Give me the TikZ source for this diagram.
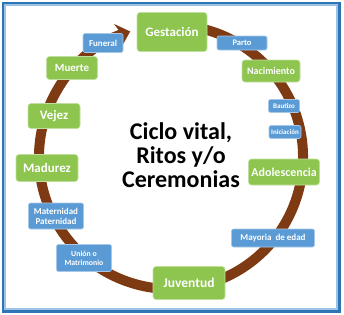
\documentclass[tikz,border=0pt]{standalone}
\usepackage{fontspec}
\setmainfont{Carlito}
\usetikzlibrary{arrows.meta}
\definecolor{CicloGreen}{HTML}{8DC54F}
\definecolor{CicloBlue}{HTML}{5B9BD5}
\definecolor{CicloBrown}{HTML}{7E3A12}
\definecolor{CicloFrame}{HTML}{2E75B6}
\definecolor{CicloFrameLight}{HTML}{9DC3E6}
\tikzset{
    % Green boxes for the stages
    etapa/.style={
        rectangle,
        rounded corners=3pt,
        draw=CicloGreen!55!white,
        line width=0.6pt,
        fill=CicloGreen,
        text=white,
        inner sep=1pt,
        align=center
    },
    % Blue boxes for the rites
    rito/.style={
        etapa,
        rounded corners=2pt,
        draw=CicloBlue!55!white,
        fill=CicloBlue
    },
    ciclo/.style={
        line width=10pt,
        color=CicloBrown,
        -{Stealth[length=13pt,width=24pt,inset=4pt]}
    }
}
\newcommand{\fsz}[1]{\bfseries\fontsize{#1}{#1}\selectfont}

\begin{document}
\begin{tikzpicture}[x=1pt, y=1pt]
        \useasboundingbox (0,0) rectangle (344,314);
        % Frame
        \draw[CicloFrame, line width=2.5pt] (2.8,2.5) rectangle (339.5,311);
        \draw[CicloFrameLight, line width=1.8pt] (5.0,4.7) rectangle (337.3,308.8);

        % Cycle arrow
        \coordinate (centro) at (171,157);
        \draw[ciclo] ([shift={(75:132)}]centro) arc[start angle=75, end angle=-252, radius=132];

        % Title
        \node[font=\fsz{24}, align=center, text=black] (titulo) at (181,159)
            {\fontsize{24}{28}\selectfont Ciclo vital,\\Ritos y/o\\Ceremonias};

        % Stages
        \node[etapa, minimum width=70pt, minimum height=39pt, font=\fsz{13}] (gest) at (172,282) {Gestación};
        \node[etapa, minimum width=58pt, minimum height=22pt, font=\fsz{10}] (nac) at (271,243) {Nacimiento};
        \node[etapa, minimum width=71pt, minimum height=26pt, font=\fsz{12}] (adol) at (284,142) {Adolescencia};
        \node[etapa, minimum width=72pt, minimum height=33pt, font=\fsz{13.5}] (juv) at (189,31) {Juventud};
        \node[etapa, minimum width=62pt, minimum height=27pt, font=\fsz{13}] (madurez) at (47,146) {Madurez};
        \node[etapa, minimum width=52pt, minimum height=25pt, font=\fsz{13}] (vejez) at (54,198) {Vejez};
        \node[etapa, minimum width=51pt, minimum height=23pt, font=\fsz{11}] (muerte) at (72,246) {Muerte};

        % Rites
        \node[rito, minimum width=50pt, minimum height=14pt, font=\fsz{8.5}] (parto) at (242,271) {Parto};
        \node[rito, minimum width=31pt, minimum height=13pt, font=\fsz{7}] (bautizo) at (284,208) {Bautizo};
        \node[rito, minimum width=32pt, minimum height=13pt, font=\fsz{7}] (inic) at (285,182) {Iniciación};
        \node[rito, minimum width=83pt, minimum height=18pt, font=\fsz{9}] (mayor) at (273,76) {Mayoria\ \ de edad};
        \node[rito, minimum width=55pt, minimum height=27pt, font=\fsz{7.8}] (union) at (84,56) {Unión o\\[1pt]Matrimonio};
        \node[rito, minimum width=55pt, minimum height=26pt, font=\fsz{9}] (mater) at (56,98) {Maternidad\\[1pt]Paternidad};
        \node[rito, minimum width=40pt, minimum height=19pt, font=\fsz{9}] (funeral) at (103,271) {Funeral};
    \end{tikzpicture}
\end{document}
